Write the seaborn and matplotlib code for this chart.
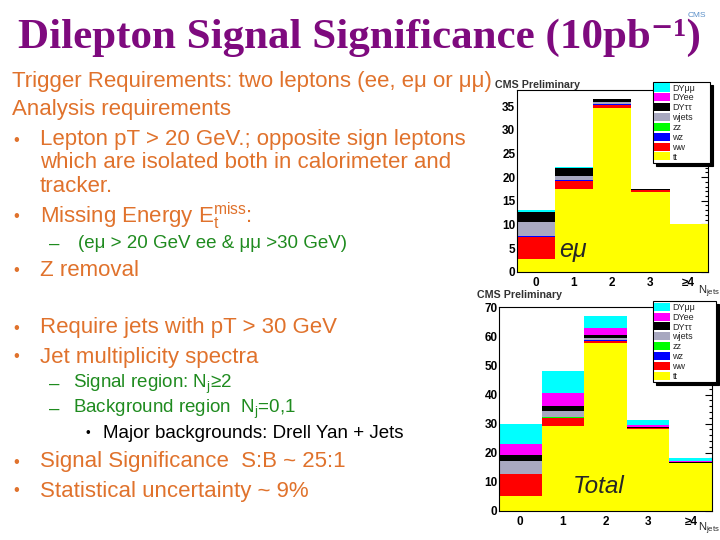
import pandas as pd
import seaborn as sns
import matplotlib.pyplot as plt
from matplotlib.patches import Patch
from matplotlib.ticker import MultipleLocator

# processes, legend order (top of stack first)
processes = ["DYμμ", "DYee", "DYττ", "wjets", "zz", "wz", "ww", "tt"]
proc_colors = ["#00FFFF", "#FF00FF", "#000000", "#A8A8C0",
               "#00FF00", "#0000FF", "#FF0000", "#FFFF00"]
njet_bins = [0, 1, 2, 3, 4]
njet_labels = ["0", "1", "2", "3", "≥4"]

# e-mu channel, events per jet bin
emu_tt = [2.7, 17.5, 34.7, 16.9, 10.0]
emu_ww = [4.7, 1.7, 0.6, 0.3, 0.0]
emu_wz = [0.1, 0.1, 0.1, 0.0, 0.0]
emu_zz = [0.1, 0.0, 0.0, 0.0, 0.0]
emu_wjets = [3.0, 1.0, 0.4, 0.0, 0.0]
emu_dytautau = [2.0, 1.6, 0.7, 0.2, 0.0]
emu_dyee = [0.0, 0.0, 0.0, 0.0, 0.0]
emu_dymumu = [0.5, 0.2, 0.0, 0.0, 0.0]

# all channels
tot_tt = [5.2, 29.2, 57.9, 28.0, 16.6]
tot_ww = [7.3, 2.8, 0.7, 0.4, 0.0]
tot_wz = [0.1, 0.1, 0.1, 0.0, 0.0]
tot_zz = [0.2, 0.1, 0.0, 0.0, 0.0]
tot_wjets = [4.3, 2.2, 0.7, 0.0, 0.0]
tot_dytautau = [2.1, 1.8, 1.2, 0.3, 0.3]
tot_dyee = [3.8, 4.5, 2.3, 0.8, 0.3]
tot_dymumu = [6.9, 7.5, 4.2, 1.6, 1.1]

emu = dict(zip(processes, [emu_dymumu, emu_dyee, emu_dytautau, emu_wjets,
                           emu_zz, emu_wz, emu_ww, emu_tt]))
tot = dict(zip(processes, [tot_dymumu, tot_dyee, tot_dytautau, tot_wjets,
                           tot_zz, tot_wz, tot_ww, tot_tt]))

ORANGE = "#E0722C"
GREEN = "#1F8B1F"
PURPLE = "#7E0A7E"

sns.set_style("white")
plt.rcParams["font.family"] = ["Liberation Sans", "DejaVu Sans"]
plt.rcParams["mathtext.fontset"] = "custom"
plt.rcParams["mathtext.rm"] = "Liberation Sans"
plt.rcParams["mathtext.it"] = "Liberation Sans:italic"
plt.rcParams["mathtext.bf"] = "Liberation Sans:bold"


def to_long(d):
    rows = []
    for p in processes:
        for b, v in zip(njet_bins, d[p]):
            rows.append({"njet": b, "process": p, "events": v})
    return pd.DataFrame(rows)


def draw_stack(ax, d, ymax, major, minor, leg_box):
    sns.histplot(data=to_long(d), x="njet", weights="events", hue="process",
                 hue_order=processes, palette=proc_colors, multiple="stack",
                 discrete=True, linewidth=0, alpha=1, legend=False, ax=ax)
    ax.set_xlim(-0.5, 4.5)
    ax.set_ylim(0, ymax)
    ax.set_xticks(njet_bins)
    ax.set_xticklabels(njet_labels)
    ax.yaxis.set_major_locator(MultipleLocator(major))
    ax.yaxis.set_minor_locator(MultipleLocator(minor))
    ax.xaxis.set_minor_locator(MultipleLocator(0.5))
    ax.tick_params(which="both", direction="in", top=False, right=True,
                   labelsize=8.5, width=0.8, colors="black")
    ax.tick_params(which="major", length=5)
    ax.tick_params(which="minor", length=2.5)
    for lab in ax.get_xticklabels() + ax.get_yticklabels():
        lab.set_fontweight("bold")
    ax.tick_params(axis="y", pad=1)
    ax.set_xlabel("")
    ax.set_ylabel("")
    for s in ax.spines.values():
        s.set_linewidth(0.8)
        s.set_color("black")
    handles = [Patch(facecolor=c, edgecolor="none", label=p)
               for p, c in zip(processes, proc_colors)]
    leg = ax.legend(handles=handles, loc="upper left", bbox_to_anchor=leg_box,
                    bbox_transform=fig.transFigure, fontsize=6.5, frameon=True,
                    fancybox=False, shadow={"color": "black", "alpha": 1},
                    handlelength=1.7, handleheight=1.0, handletextpad=0.3,
                    labelspacing=0.08, borderpad=0.15, borderaxespad=0,
                    mode="expand")
    leg.get_frame().set_edgecolor("black")
    leg.get_frame().set_linewidth(0.8)
    leg.set_zorder(10)


fig = plt.figure(figsize=(7.2, 5.4), dpi=100)

# histograms
ax1 = fig.add_axes([0.7176, 0.4969, 0.2654, 0.3364])
draw_stack(ax1, emu, 38.4, 5, 1, (0.907, 0.709, 0.079, 0.139))
ax1.text(0.22, 0.12, "eμ", transform=ax1.transAxes, fontsize=18,
         style="italic", ha="left", va="center")
fig.text(0.688, 0.843, "CMS Preliminary", fontsize=7.7, fontweight="bold",
         color="#333333", va="center")
fig.text(0.984, 0.46, r"$\mathrm{N}_{\mathrm{jets}}$", fontsize=8,
         ha="center", va="center")

ax2 = fig.add_axes([0.693, 0.0543, 0.296, 0.3777])
draw_stack(ax2, tot, 70.3, 10, 2, (0.907, 0.286, 0.088, 0.156))
ax2.text(0.347, 0.12, "Total", transform=ax2.transAxes, fontsize=17.5,
         style="italic", ha="left", va="center")
fig.text(0.662, 0.453, "CMS Preliminary", fontsize=7.7, fontweight="bold",
         color="#333333", va="center")
fig.text(0.984, 0.02, r"$\mathrm{N}_{\mathrm{jets}}$", fontsize=8,
         ha="center", va="center")

# slide title
fig.text(0.025, 0.93, "Dilepton Signal Significance (10pb⁻¹)",
         fontsize=31, fontweight="bold",
         family=["Liberation Serif", "DejaVu Serif"],
         color=PURPLE, va="center", ha="left")
fig.text(0.968, 0.972, "CMS", fontsize=6, color="#5A8FC8", ha="center",
         va="center")

# slide body text: (y pixel, x pixel, text, colour, size, bullet)
W, H = 720.0, 540.0
lines = [
    (82, 12, "Trigger Requirements: two leptons (ee, eμ or μμ)", ORANGE, 16, None),
    (110, 12, "Analysis requirements", ORANGE, 16, None),
    (140, 40, "Lepton pT > 20 GeV.; opposite sign leptons", ORANGE, 16, "•"),
    (163, 40, "which are isolated both in calorimeter and", ORANGE, 16, None),
    (187, 40, "tracker.", ORANGE, 16, None),
    (216, 40, r"Missing Energy E$_{\mathrm{t}}^{\mathrm{miss}}$:", ORANGE, 16, "•"),
    (244, 78, "(eμ > 20 GeV ee & μμ >30 GeV)", GREEN, 13.5, "–"),
    (270, 40, "Z removal", ORANGE, 16, "•"),
    (328, 40, "Require jets with pT > 30 GeV", ORANGE, 16, "•"),
    (357, 40, "Jet multiplicity spectra", ORANGE, 16, "•"),
    (384, 73, r"Signal region: N$_{\mathrm{j}}$≥2", GREEN, 13.5, "–"),
    (409, 73, r"Background region  N$_{\mathrm{j}}$=0,1", GREEN, 13.5, "–"),
    (434, 103, "Major backgrounds: Drell Yan + Jets", "black", 13.5, "•"),
    (462, 40, "Signal Significance  S:B ~ 25:1", ORANGE, 16, "•"),
    (491, 40, "Statistical uncertainty ~ 9%", ORANGE, 16, "•"),
]
for y, x, txt, col, size, bullet in lines:
    fig.text(x / W, 1 - y / H, txt, fontsize=size, color=col,
             ha="left", va="center")
    if bullet == "•":
        bx = 13 if x == 40 else 86
        fig.text(bx / W, 1 - y / H, "•", fontsize=size - 4, color=col,
                 ha="left", va="center")
    elif bullet == "–":
        fig.text(49 / W, 1 - y / H, "–", fontsize=size, color=col,
                 ha="left", va="center")

fig.savefig("out.png", dpi=100)
